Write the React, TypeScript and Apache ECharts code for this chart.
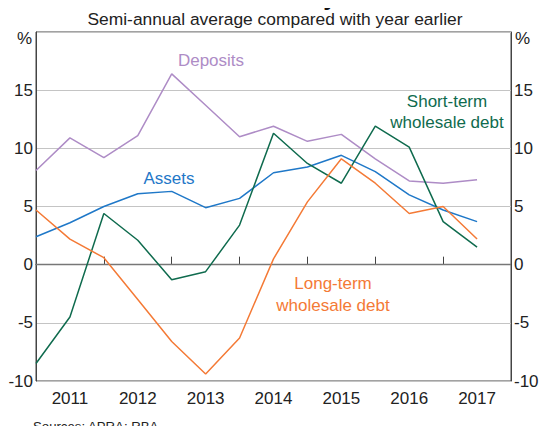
import React, { useEffect, useRef } from "react";
import * as echarts from "echarts";

const years = ["2011", "2012", "2013", "2014", "2015", "2016", "2017"];
// semi-annual observations, position in half-years from start of 2011
const halfYearIndex = [0, 1, 2, 3, 4, 5, 6, 7, 8, 9, 10, 11, 12, 13];
const deposits = [8.1, 10.9, 9.2, 11.1, 16.4, 13.7, 11.0, 11.9, 10.6, 11.2, 9.1, 7.2, 7.0, 7.3];
const assets = [2.4, 3.6, 5.0, 6.1, 6.3, 4.9, 5.7, 7.9, 8.4, 9.4, 8.0, 6.0, 4.7, 3.7];
const shortTerm = [-8.5, -4.5, 4.4, 2.1, -1.3, -0.6, 3.4, 11.3, 8.7, 7.0, 11.9, 10.1, 3.7, 1.5];
const longTerm = [4.7, 2.2, 0.6, -3.0, -6.6, -9.4, -6.3, 0.5, 5.4, 9.1, 7.0, 4.4, 5.0, 2.2];
const yTicks = [-10, -5, 0, 5, 10, 15, 20];

const FONT = "Liberation Sans, Arial, sans-serif";
const C_DEP = "#ae8cc6";
const C_ASS = "#1f78c8";
const C_ST = "#0f6b4e";
const C_LT = "#f47a36";

export default function App() {
  const ref = useRef<HTMLDivElement>(null);
  useEffect(() => {
    if (!ref.current) return;
    const chart = echarts.init(ref.current, undefined, { renderer: "svg" });
    const pair = (arr: number[]) => arr.map((v, i) => [halfYearIndex[i], v]);
    const lineSeries = (name: string, data: number[], color: string) => ({
      name,
      type: "line",
      xAxisIndex: 0,
      yAxisIndex: 0,
      data: pair(data),
      showSymbol: false,
      symbol: "none",
      lineStyle: { color, width: 1.5 },
      z: 3,
    });
    const yLabel = {
      fontSize: 17,
      color: "#222",
      fontFamily: FONT,
      formatter: (v: number) => (v === yTicks[yTicks.length - 1] ? "" : String(v)),
    };
    chart.setOption({
      animation: false,
      backgroundColor: "#fff",
      grid: {
        left: 36,
        right: 37,
        top: 32,
        bottom: 53,
        show: true,
        borderColor: "#444",
        borderWidth: 1,
        backgroundColor: "transparent",
      },
      xAxis: [
        { type: "value", min: 0, max: 14, show: false, position: "bottom" },
        {
          type: "category",
          data: years,
          position: "bottom",
          boundaryGap: true,
          axisLine: { show: true, lineStyle: { color: "#444", width: 1 } },
          axisTick: { show: true, inside: true, length: 8, lineStyle: { color: "#444" } },
          axisLabel: { fontSize: 17, color: "#222", fontFamily: FONT, margin: 9 },
          splitLine: { show: false },
        },
      ],
      yAxis: [
        {
          type: "value",
          min: -10,
          max: 20,
          interval: 5,
          position: "left",
          axisLine: { show: true, lineStyle: { color: "#444" } },
          axisTick: { show: false },
          axisLabel: { ...yLabel, margin: 3 },
          splitLine: { show: true, lineStyle: { color: "#c4c4c4", width: 1 } },
        },
        {
          type: "value",
          min: -10,
          max: 20,
          interval: 5,
          position: "right",
          axisLine: { show: true, lineStyle: { color: "#444" } },
          axisTick: { show: false },
          axisLabel: { ...yLabel, margin: 3 },
          splitLine: { show: false },
        },
      ],
      series: [
        {
          ...lineSeries("Deposits", deposits, C_DEP),
          markLine: {
            silent: true,
            symbol: "none",
            label: { show: false },
            lineStyle: { color: "#777", width: 1.3, type: "solid" },
            data: [{ yAxis: 0 }],
            z: 2,
          },
        },
        lineSeries("Assets", assets, C_ASS),
        lineSeries("Short-term wholesale debt", shortTerm, C_ST),
        lineSeries("Long-term wholesale debt", longTerm, C_LT),
      ],
      graphic: [
        {
          type: "text",
          x: 274,
          y: -4.5,
          style: {
            text: "Asset and Liability Growth",
            font: `bold 25px ${FONT}`,
            fill: "#111",
            align: "center",
            verticalAlign: "middle",
          },
        },
        {
          type: "text",
          x: 275,
          y: 18.5,
          style: {
            text: "Semi-annual average compared with year earlier",
            font: `17.4px ${FONT}`,
            fill: "#222",
            align: "center",
            verticalAlign: "middle",
          },
        },
        { type: "text", x: 17, y: 30, style: { text: "%", font: `17px ${FONT}`, fill: "#222" } },
        { type: "text", x: 515, y: 30, style: { text: "%", font: `17px ${FONT}`, fill: "#222" } },
        {
          type: "text",
          x: 211,
          y: 60,
          style: { text: "Deposits", font: `17px ${FONT}`, fill: C_DEP, align: "center", verticalAlign: "middle" },
        },
        {
          type: "text",
          x: 169,
          y: 178,
          style: { text: "Assets", font: `17px ${FONT}`, fill: C_ASS, align: "center", verticalAlign: "middle" },
        },
        {
          type: "text",
          x: 447,
          y: 112,
          style: {
            text: "Short-term\nwholesale debt",
            font: `17px ${FONT}`,
            lineHeight: 21,
            fill: C_ST,
            align: "center",
            verticalAlign: "middle",
          },
        },
        {
          type: "text",
          x: 333,
          y: 294,
          style: {
            text: "Long-term\nwholesale debt",
            font: `17px ${FONT}`,
            lineHeight: 22,
            fill: C_LT,
            align: "center",
            verticalAlign: "middle",
          },
        },
        {
          type: "text",
          x: 33,
          y: 426,
          style: {
            text: "Sources: APRA; RBA",
            font: `13.2px ${FONT}`,
            fill: "#222",
            verticalAlign: "middle",
          },
        },
      ],
    });
    return () => chart.dispose();
  }, []);
  return <div ref={ref} style={{ width: 548, height: 434, margin: -8 }} />;
}
